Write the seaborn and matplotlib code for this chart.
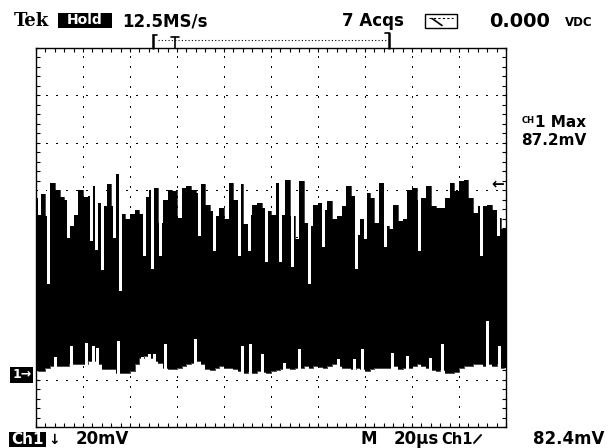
import numpy as np
import matplotlib
matplotlib.use("Agg")
import matplotlib.pyplot as plt
import seaborn as sns
from matplotlib.patches import Rectangle
from matplotlib.lines import Line2D

time_us = list(range(1, 200, 2))          # centre of each 2 us display column
upper_mv = [76.7, 78.5, 69.0, 83.0, 80.0, 77.0, 76.0, 65.0, 69.6, 80.0,
            77.0, 77.5, 81.6, 74.5, 73.5, 82.5, 73.5, 87.0, 70.0, 68.0,
            70.0, 71.5, 70.0, 77.0, 80.0,
            80.9, 66.0, 76.0, 80.2, 79.5, 68.3, 81.0, 81.6, 80.2, 78.8,
            82.6, 73.9, 71.0, 69.0, 72.5, 67.6, 83.0, 76.0, 82.5, 65.5,
            69.7, 73.9, 74.6, 72.5, 71.0,
            69.7, 83.0, 69.7, 84.4, 69.0, 59.2, 83.7, 66.2, 64.8, 73.9,
            74.6, 71.8, 75.3, 67.6, 69.0, 73.2, 81.6, 77.4, 61.0, 67.6,
            78.8, 76.7, 66.2, 83.0,
            64.8, 63.4, 73.9, 67.0, 67.6, 80.2, 80.9, 76.0, 76.7, 81.6,
            73.2, 72.5, 72.5, 76.7, 83.0, 79.5, 83.7, 84.4, 76.7, 70.4,
            73.2, 73.2, 73.9, 71.8, 68.3, 63.4]
lower_mv = [3.7, 3.7, 5.1, 5.8, 5.8, 5.8, 5.8, 6.5, 6.5, 6.5,
            6.5, 7.9, 7.9, 6.5, 4.4, 4.4, 4.4, 3.0, 3.0, 3.0,
            3.7, 6.5, 9.3, 10.0, 9.3,
            7.9, 7.2, 5.1, 4.4, 4.4, 4.8, 5.8, 6.5, 7.2, 7.9,
            6.5, 4.4, 4.0, 5.1, 5.8, 5.1, 4.8, 4.4, 3.7, 3.0,
            3.4, 3.0, 3.7, 3.4, 3.0,
            3.7, 4.0, 4.4, 5.1, 4.4, 5.1, 5.1, 5.8, 5.1, 5.8,
            5.4, 4.8, 5.8, 6.5, 5.8, 5.1, 4.8, 4.4, 5.1, 4.4,
            3.7, 4.4, 4.8, 5.1,
            5.1, 4.8, 5.8, 4.4, 5.1, 4.8, 5.8, 6.5, 5.8, 4.8,
            4.0, 3.7, 4.0, 3.0, 3.0, 3.4, 5.1, 5.8, 5.8, 6.5,
            6.5, 5.8, 6.5, 5.8, 6.5, 5.1]
# narrow gaps in the upper edge (time us, level mV)
dip_t = [1.3, 5.1, 13.8, 23.6, 25.4, 28.2, 33.2, 35.7, 45.9, 49.5, 52.8,
         69.5, 75.8, 86.5, 90.7, 97.9, 103.8, 108.8, 116.3, 122.3, 136.2,
         140.1, 148.7, 162.9, 189.4, 196.4]
dip_mv = [70.0, 41.0, 60.0, 59.0, 55.0, 46.5, 60.0, 38.0, 52.8, 47.0, 52.8,
          61.0, 54.7, 52.8, 54.7, 50.0, 50.0, 48.0, 41.0, 56.3, 47.2,
          59.8, 56.3, 54.7, 52.8, 61.0]
# narrow gaps in the lower edge (time us, level mV)
spike_t = [8.0, 14.8, 21.4, 24.4, 26.1, 34.9, 45.2, 48.0, 50.2, 54.9, 67.7,
           87.5, 91.0, 96.0, 105.7, 112.1, 128.4, 135.4, 138.9, 151.5, 157.9,
           167.8, 172.8, 191.9, 196.9]
spike_mv = [9.6, 14.2, 15.6, 14.2, 13.5, 16.3, 9.6, 11.0, 10.7, 14.9, 17.0,
            14.2, 14.9, 10.7, 7.2, 12.8, 8.6, 8.6, 12.8, 11.3, 10.0,
            9.3, 14.9, 24.8, 14.2]
trigger_level_mv = 82.4
volts_per_div_mv = 20
time_per_div_us = 20

# ---------------- figure ----------------
sns.set_style("white")
plt.rcParams['font.family'] = ['DejaVu Sans']

W, H = 615, 448
fig = plt.figure(figsize=(W / 100, H / 100), dpi=100)
fig.patch.set_facecolor("white")
ax = fig.add_axes([36 / W, 1 - 427 / H, 470 / W, 379 / H])

def P(x, y):
    return x / W, 1 - y / H

t = np.array(time_us, dtype=float)
up = np.array(upper_mv)
lo = np.array(lower_mv)

ax.bar(t, up - lo, bottom=lo, width=2.0, color="black", linewidth=0,
       antialiased=False, zorder=2)
sns.lineplot(x=t, y=up, drawstyle="steps-mid", color="black", lw=0.5,
             ax=ax, zorder=2)
sns.lineplot(x=t, y=lo, drawstyle="steps-mid", color="black", lw=0.5,
             ax=ax, zorder=2)

n = len(t)
def nb_idx(tt):
    i = int(np.clip(tt // 2, 0, n - 1))
    return [max(i - 1, 0), i, min(i + 1, n - 1)]

dtop = [up[nb_idx(v)].max() + 1.5 for v in dip_t]
ax.vlines(dip_t, dip_mv, dtop, color="white", lw=0.8, antialiased=False, zorder=3)
sbot = [lo[nb_idx(v)].min() - 1.5 for v in spike_t]
ax.vlines(spike_t, sbot, spike_mv, color="white", lw=0.8, antialiased=False, zorder=3)

ax.set_xlim(0, 10 * time_per_div_us)
ax.set_ylim(-volts_per_div_mv, 7 * volts_per_div_mv)
ax.set_xticks(np.arange(0, 201, time_per_div_us))
ax.set_yticks(np.arange(-20, 141, volts_per_div_mv))
ax.set_xticks(np.arange(0, 201, time_per_div_us / 5), minor=True)
ax.set_yticks(np.arange(-20, 141, volts_per_div_mv / 5), minor=True)
ax.tick_params(which="both", direction="in", length=3, width=0.8, color="black",
               top=True, right=True, bottom=True, left=True,
               labelbottom=False, labelleft=False)
ax.set_xlabel("")
ax.set_ylabel("")
ax.grid(True, which="major", color="black", linestyle=(0, (1.2, 7.26)),
        linewidth=0.8, antialiased=False)
ax.set_axisbelow(True)
for s in ax.spines.values():
    s.set_visible(True)
    s.set_color("black")
    s.set_linewidth(1.0)

# ---------------- screen annotations ----------------
def L(xs, ys, **kw):
    fx = [x / W for x in xs]
    fy = [1 - y / H for y in ys]
    fig.add_artist(Line2D(fx, fy, transform=fig.transFigure, color="black", **kw))

# record bracket and trigger position
L([153, 153], [35, 48], lw=1.8)
L([153, 157], [35.5, 35.5], lw=1.2)
L([158, 386], [40, 40], lw=0.8, linestyle=(0, (1, 2)))
L([171, 179], [37, 37], lw=1.2)
L([175, 175], [37, 48], lw=1.2)
L([388.5, 388.5], [33, 48], lw=1.8)
L([385, 389], [33.5, 33.5], lw=1.2)

bold = dict(fontweight="bold", color="black", va="baseline")
fig.text(*P(14, 26.5), "Tek", fontsize=13, family="DejaVu Serif", **bold)
fig.add_artist(Rectangle(P(58, 28), 54 / W, 15 / H, transform=fig.transFigure,
                         facecolor="black", edgecolor="none"))
fig.text(*P(85, 20.5), "Hold", fontsize=10, fontweight="bold", color="white",
         ha="center", va="center")
fig.text(*P(122, 26.5), "12.5MS/s", fontsize=12, **bold)
fig.text(*P(342, 26.5), "7 Acqs", fontsize=12, **bold)
# meter icon
fig.add_artist(Rectangle(P(425, 28), 32 / W, 14 / H, transform=fig.transFigure,
                         facecolor="none", edgecolor="black", lw=1.0))
L([429, 453], [18, 18], lw=0.8, linestyle=(0, (2, 2)))
L([432, 442], [18.5, 25.5], lw=1.2)
fig.text(*P(489, 27), "0.000", fontsize=14, **bold)
fig.text(*P(565, 26.5), "VDC", fontsize=8.5, **bold)

fig.text(*P(522, 123), "CH", fontsize=6, **bold)
fig.text(*P(535, 127), "1 Max", fontsize=11, **bold)
fig.text(*P(521, 145), "87.2mV", fontsize=11, **bold)

# bottom line
fig.add_artist(Rectangle(P(9, 447), 37 / W, 15 / H, transform=fig.transFigure,
                         facecolor="black", edgecolor="none"))
fig.text(*P(27.5, 439.5), "Ch1", fontsize=11, fontweight="bold", color="white",
         ha="center", va="center")
fig.text(*P(48, 444), "↓", fontsize=10, **bold)
fig.text(*P(76, 443.5), "20mV", fontsize=12, **bold)
fig.text(*P(361, 443.5), "M", fontsize=12, **bold)
fig.text(*P(394, 443.5), "20µs", fontsize=12, **bold)
fig.text(*P(441, 443.5), "Ch1", fontsize=10.5, **bold)
L([474, 481], [443, 435], lw=1.4)
fig.text(*P(533, 444), "82.4mV", fontsize=12, **bold)

# ground marker (channel 1) and trigger level arrow
ytr = ax.get_yaxis_transform()
ax.text(-0.03, 2.0, "1→", transform=ytr, fontsize=9, fontweight="bold",
        color="white", ha="center", va="center", clip_on=False,
        bbox=dict(boxstyle="square,pad=0.15", facecolor="black", edgecolor="none"))
ax.text(0.982, trigger_level_mv, "←", transform=ytr, fontsize=11,
        fontweight="bold", color="black", ha="center", va="center", clip_on=False)

fig.savefig("out.png", dpi=100, facecolor="white")
